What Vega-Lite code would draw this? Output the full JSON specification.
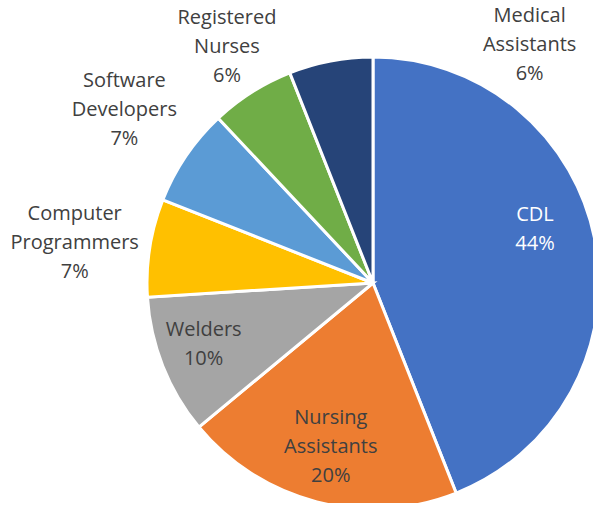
{
  "$schema": "https://vega.github.io/schema/vega-lite/v6.json",
  "autosize": {"type": "none"},
  "width": 440,
  "height": 440,
  "padding": {"left": 153, "top": 63, "right": 0, "bottom": 0},
  "background": "white",
  "view": {"stroke": null},
  "config": {
    "text": {"font": "Open Sans", "fontSize": 20, "lineHeight": 29, "lineBreak": " ", "align": "center", "baseline": "middle", "fill": "#404040"}
  },
  "data": {
    "values": [
      {"job": "CDL", "pct": 44},
      {"job": "Nursing Assistants", "pct": 20},
      {"job": "Welders", "pct": 10},
      {"job": "Computer Programmers", "pct": 7},
      {"job": "Software Developers", "pct": 7},
      {"job": "Registered Nurses", "pct": 6},
      {"job": "Medical Assistants", "pct": 6}
    ]
  },
  "transform": [
    {"window": [{"op": "row_number", "as": "idx"}]},
    {"calculate": "datum.job + ' ' + datum.pct + '%'", "as": "label"}
  ],
  "encoding": {
    "theta": {"field": "pct", "type": "quantitative", "stack": true},
    "order": {"field": "idx", "type": "quantitative"}
  },
  "layer": [
    {
      "mark": {"type": "arc", "outerRadius": 226, "stroke": "white", "strokeWidth": 3},
      "encoding": {
        "color": {
          "field": "job",
          "type": "nominal",
          "legend": null,
          "scale": {
            "domain": ["CDL", "Nursing Assistants", "Welders", "Computer Programmers", "Software Developers", "Registered Nurses", "Medical Assistants"],
            "range": ["#4472C4", "#ED7D31", "#A5A5A5", "#FFC000", "#5B9BD5", "#70AD47", "#264478"]
          }
        }
      }
    },
    {
      "mark": {"type": "text", "radius": 171, "dx": -6, "dy": -36, "fill": "white"},
      "encoding": {"text": {"condition": {"test": "datum.idx == 1", "field": "label"}, "value": ""}}
    },
    {
      "mark": {"type": "text", "radius": 170, "dy": -30},
      "encoding": {"text": {"condition": {"test": "datum.idx == 2", "field": "label"}, "value": ""}}
    },
    {
      "mark": {"type": "text", "radius": 180, "dx": -2, "dy": -19},
      "encoding": {"text": {"condition": {"test": "datum.idx == 3", "field": "label"}, "value": ""}}
    },
    {
      "mark": {"type": "text", "radius": 300, "dx": -2, "dy": -22},
      "encoding": {"text": {"condition": {"test": "datum.idx == 4", "field": "label"}, "value": ""}}
    },
    {
      "mark": {"type": "text", "radius": 303, "dx": 2, "dy": -32},
      "encoding": {"text": {"condition": {"test": "datum.idx == 5", "field": "label"}, "value": ""}}
    },
    {
      "mark": {"type": "text", "radius": 280, "dx": 4, "dy": -29},
      "encoding": {"text": {"condition": {"test": "datum.idx == 6", "field": "label"}, "value": ""}}
    },
    {
      "mark": {"type": "text", "radius": 226, "dx": 199, "dy": -45},
      "encoding": {"text": {"condition": {"test": "datum.idx == 7", "field": "label"}, "value": ""}}
    }
  ]
}
